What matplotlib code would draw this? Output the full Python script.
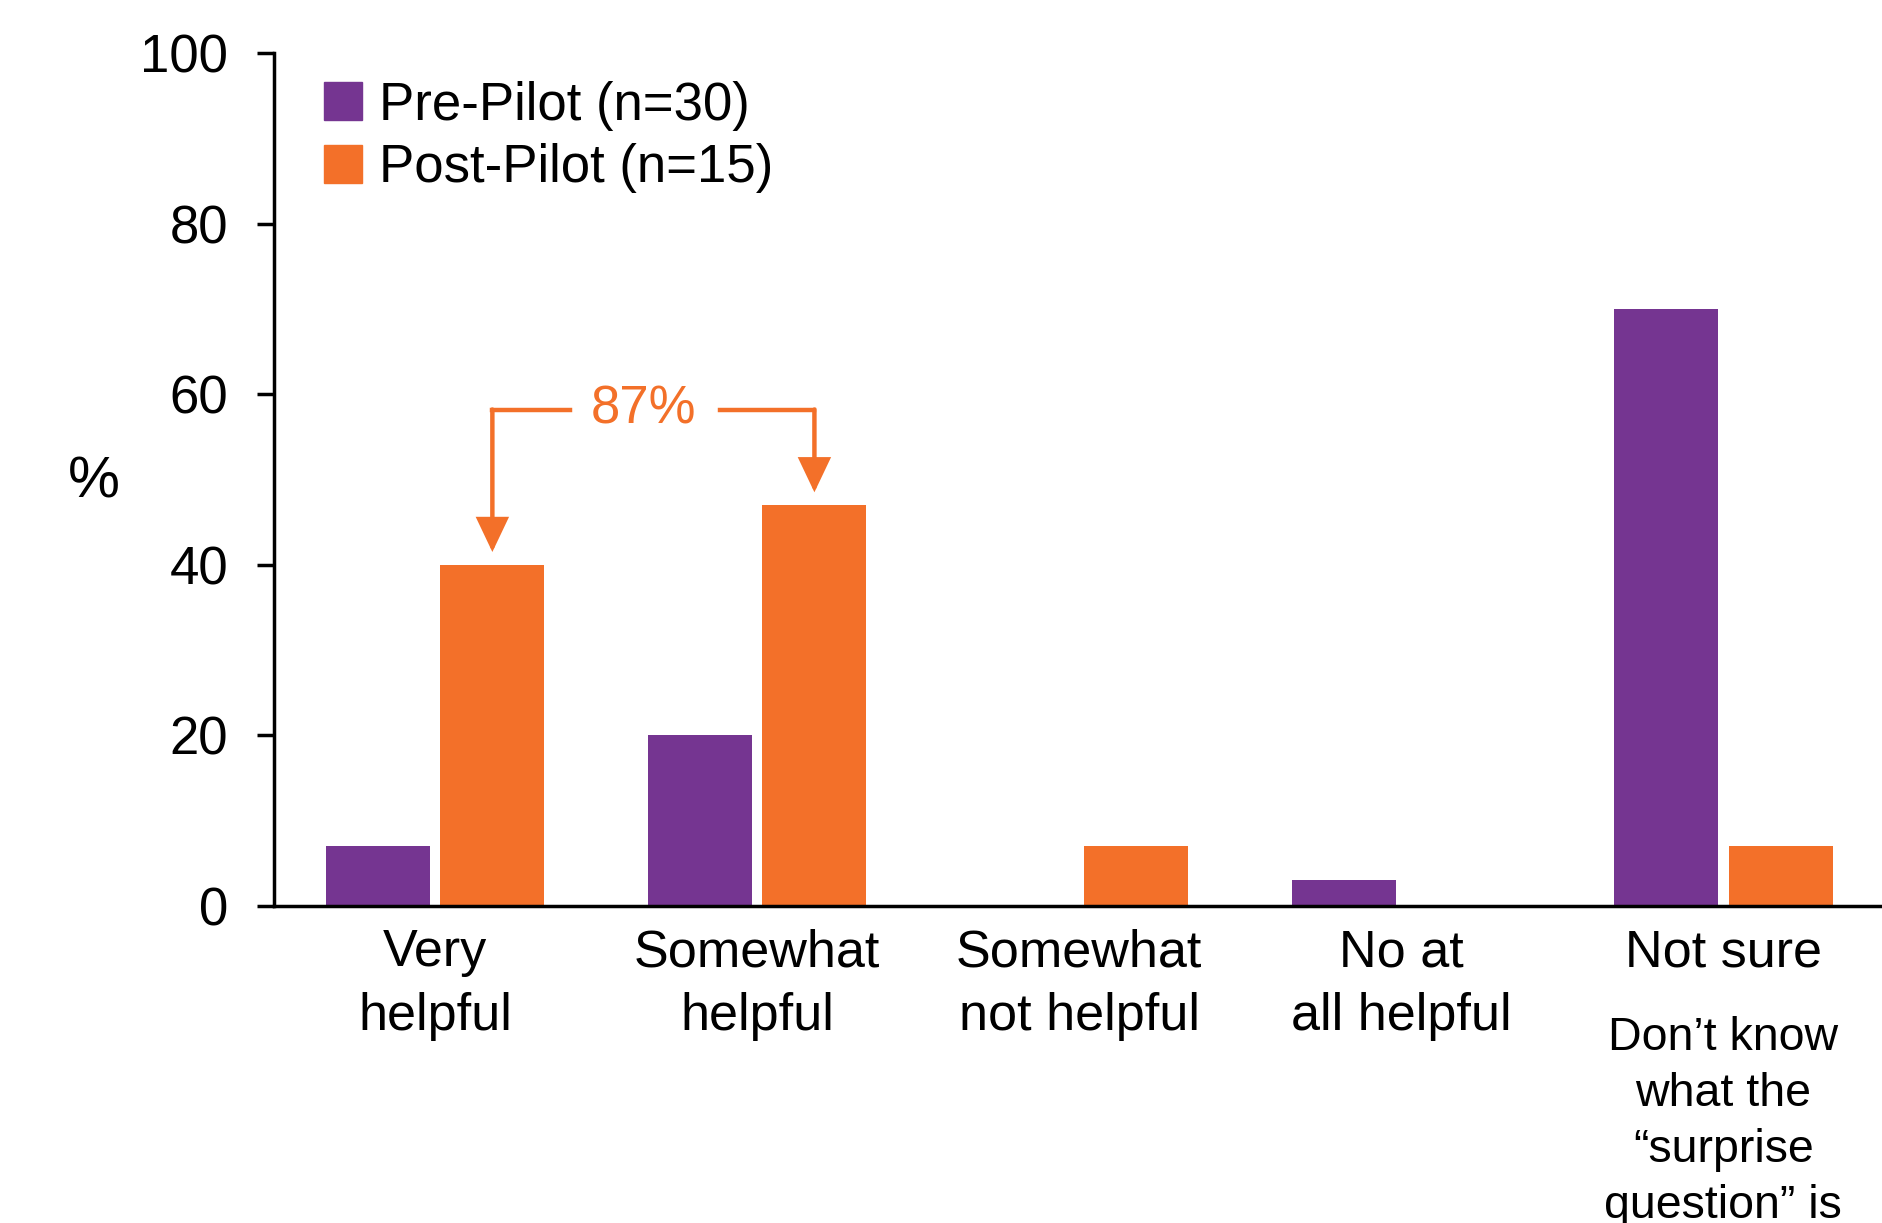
import matplotlib
matplotlib.use("Agg")
import matplotlib.pyplot as plt
from matplotlib.patches import Patch
import numpy as np

plt.rcParams['font.family'] = ['Liberation Sans', 'DejaVu Sans']

categories = ["Very\nhelpful", "Somewhat\nhelpful", "Somewhat\nnot helpful", "No at\nall helpful", "Not sure"]
pre_pilot = [7, 20, 0, 3, 70]
post_pilot = [40, 47, 7, 0, 7]
series_labels = ["Pre-Pilot (n=30)", "Post-Pilot (n=15)"]
yticks = [0, 20, 40, 60, 80, 100]
note_text = "Don\u2019t know\nwhat the\n\u201csurprise\nquestion\u201d is"
bracket_label = "87%"

PURPLE = "#753591"
ORANGE = "#F37029"

fig = plt.figure(figsize=(18.82, 12.23), dpi=100)
ax = fig.add_axes([0.1456, 0.2592, 1 - 0.1456, 0.9567 - 0.2592])

x = np.arange(len(categories))
w = 0.323
off = 0.178
ax.bar(x - off, pre_pilot, width=w, color=PURPLE)
ax.bar(x + off, post_pilot, width=w, color=ORANGE)

ax.set_xlim(-0.5, 4.493)
ax.set_ylim(0, 100)
ax.set_yticks(yticks)
ax.tick_params(axis='y', labelsize=38, length=12, width=2.5, pad=21, direction='out')
ax.tick_params(axis='x', length=0, labelbottom=False)
for s in ['top', 'right']:
    ax.spines[s].set_visible(False)
ax.spines['left'].set_linewidth(2.5)
ax.spines['bottom'].set_linewidth(2.5)

ax.set_ylabel("%", fontsize=42, rotation=0, va='center', ha='center')
ax.yaxis.set_label_coords(-0.112, 0.497)

# category labels
for xi, lab in zip(x, categories):
    ax.annotate(lab, xy=(xi, 0), xycoords='data', xytext=(0, -16), textcoords='offset points',
                ha='center', va='top', fontsize=37.5, linespacing=1.38)
ax.annotate(note_text, xy=(x[-1], 0), xycoords='data', xytext=(0, -79), textcoords='offset points',
            ha='center', va='top', fontsize=33.5, linespacing=1.36, annotation_clip=False)

# 87% bracket
yb = 58.2
xl = x[0] + off
xr = x[1] + off
ax.plot([xl, 0.42], [yb, yb], color=ORANGE, lw=3.2, solid_capstyle='projecting')
ax.plot([0.885, xr], [yb, yb], color=ORANGE, lw=3.2, solid_capstyle='projecting')
astyle = dict(arrowstyle='-|>,head_length=2.0,head_width=0.95', color=ORANGE, lw=3.2,
              shrinkA=0, shrinkB=0, joinstyle='miter')
ax.annotate("", xy=(xl, post_pilot[0] + 1.5), xytext=(xl, yb), arrowprops=astyle)
ax.annotate("", xy=(xr, post_pilot[1] + 1.5), xytext=(xr, yb), arrowprops=astyle)
ax.text(0.647, yb, bracket_label, color=ORANGE, fontsize=38, ha='center', va='center')

handles = [Patch(color=PURPLE), Patch(color=ORANGE)]
leg = ax.legend(handles, series_labels, loc='upper left', bbox_to_anchor=(0.172, 0.934),
                bbox_transform=fig.transFigure, frameon=False, fontsize=38,
                handlelength=0.72, handleheight=0.72, handletextpad=0.32, labelspacing=0.24,
                borderaxespad=0, borderpad=0)

fig.savefig("out.png", dpi=100)
